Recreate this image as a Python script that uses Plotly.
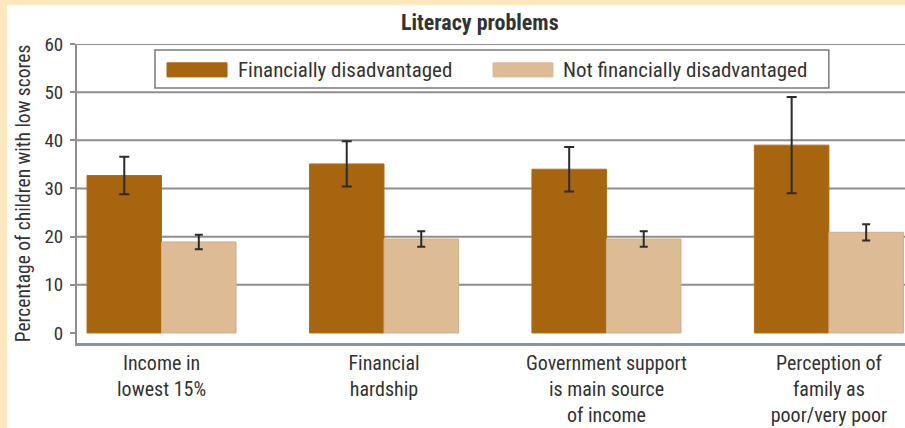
import plotly.graph_objects as go

# Literacy problems: share of children with low scores, by disadvantage measure
categories = [
    "Income in<br>lowest 15%",
    "Financial<br>hardship",
    "Government support<br>is main source<br>of income",
    "Perception of<br>family as<br>poor/very poor",
]
disadvantaged = [32.7, 35.1, 34.0, 39.0]
disadvantaged_err = [3.9, 4.7, 4.6, 10.0]
not_disadvantaged = [18.9, 19.5, 19.5, 20.9]
not_disadvantaged_err = [1.5, 1.6, 1.6, 1.7]
y_ticks = [0, 10, 20, 30, 40, 50, 60]
series_names = ["Financially disadvantaged", "Not financially disadvantaged"]

DARK = "#A8650F"
LIGHT = "#DDBB94"
CREAM = "#FDE7BF"
GRID = "#8E8E8E"
TEXT = "#333333"
FONT = "Roboto Condensed, Roboto, sans-serif"

x_idx = list(range(len(categories)))

fig = go.Figure()
fig.add_trace(go.Bar(
    x=x_idx, y=disadvantaged, name=series_names[0],
    marker=dict(color=DARK, line=dict(color="#B06E18", width=1)),
    error_y=dict(type="data", array=disadvantaged_err, color="#2B2B2B",
                 thickness=2, width=5),
))
fig.add_trace(go.Bar(
    x=x_idx, y=not_disadvantaged, name=series_names[1],
    marker=dict(color=LIGHT, line=dict(color="#D2AE86", width=1)),
    error_y=dict(type="data", array=not_disadvantaged_err, color="#2B2B2B",
                 thickness=2, width=4),
))

shapes = [
    # white panel framed by the cream page colour
    dict(type="rect", xref="paper", yref="paper", x0=-0.0845, x1=1.01,
         y0=-0.30, y1=1.1304, fillcolor="white", line=dict(width=0),
         layer="below"),
]
# horizontal gridlines at each labelled value above zero
for v in y_ticks[1:]:
    shapes.append(dict(type="line", xref="paper", yref="y", x0=0, x1=1,
                       y0=v, y1=v, line=dict(color=GRID, width=2),
                       layer="below"))

# legend box with wide swatches
lx0, lx1, ly0, ly1 = 0.0942, 0.908, 0.853, 0.98
shapes.append(dict(type="rect", xref="paper", yref="paper", x0=lx0, x1=lx1,
                   y0=ly0, y1=ly1, fillcolor="white",
                   line=dict(color="#7A7A7A", width=1.5), layer="above"))
sw_y0, sw_y1 = 0.890, 0.937
swatches = [(0.1087, 0.1812, DARK), (0.5024, 0.5749, LIGHT)]
for sx0, sx1, col in swatches:
    shapes.append(dict(type="rect", xref="paper", yref="paper", x0=sx0,
                       x1=sx1, y0=sw_y0, y1=sw_y1, fillcolor=col,
                       line=dict(color=col, width=1), layer="above"))

annotations = [
    dict(text="<b>Literacy problems</b>", xref="paper", yref="paper",
         x=0.487, y=1.072, xanchor="center", yanchor="middle",
         showarrow=False, font=dict(family=FONT, size=22, color=TEXT)),
]
label_x = [0.1920, 0.5850]
for lx, name in zip(label_x, series_names):
    annotations.append(dict(text=name, xref="paper", yref="paper", x=lx,
                            y=(sw_y0 + sw_y1) / 2, xanchor="left",
                            yanchor="middle", showarrow=False,
                            font=dict(family=FONT, size=21, color=TEXT)))

fig.update_layout(
    width=905, height=428,
    margin=dict(l=77, r=0, t=44, b=85),
    paper_bgcolor=CREAM,
    plot_bgcolor="rgba(0,0,0,0)",
    barmode="group", bargap=0.33, bargroupgap=0,
    showlegend=False,
    shapes=shapes,
    annotations=annotations,
    font=dict(family=FONT, color=TEXT),
    xaxis=dict(
        tickmode="array", tickvals=x_idx, ticktext=categories,
        range=[-0.38, 3.342], showgrid=False, zeroline=False,
        showline=True, linecolor="#8A93A0", linewidth=3, automargin=False,
        ticks="", tickfont=dict(family=FONT, size=20, color=TEXT),
    ),
    yaxis=dict(
        range=[-2.08, 60], tickmode="array", tickvals=y_ticks,
        showgrid=False, zeroline=False, automargin=False,
        showline=True, linecolor=GRID, linewidth=2,
        ticks="outside", ticklen=5, tickwidth=2, tickcolor=GRID,
        ticklabelstandoff=3,
        tickfont=dict(family=FONT, size=19, color=TEXT),
        title=dict(text="Percentage of children with low scores",
                   font=dict(family=FONT, size=19.5, color=TEXT), standoff=9),
    ),
)

fig.write_html("out.html")
